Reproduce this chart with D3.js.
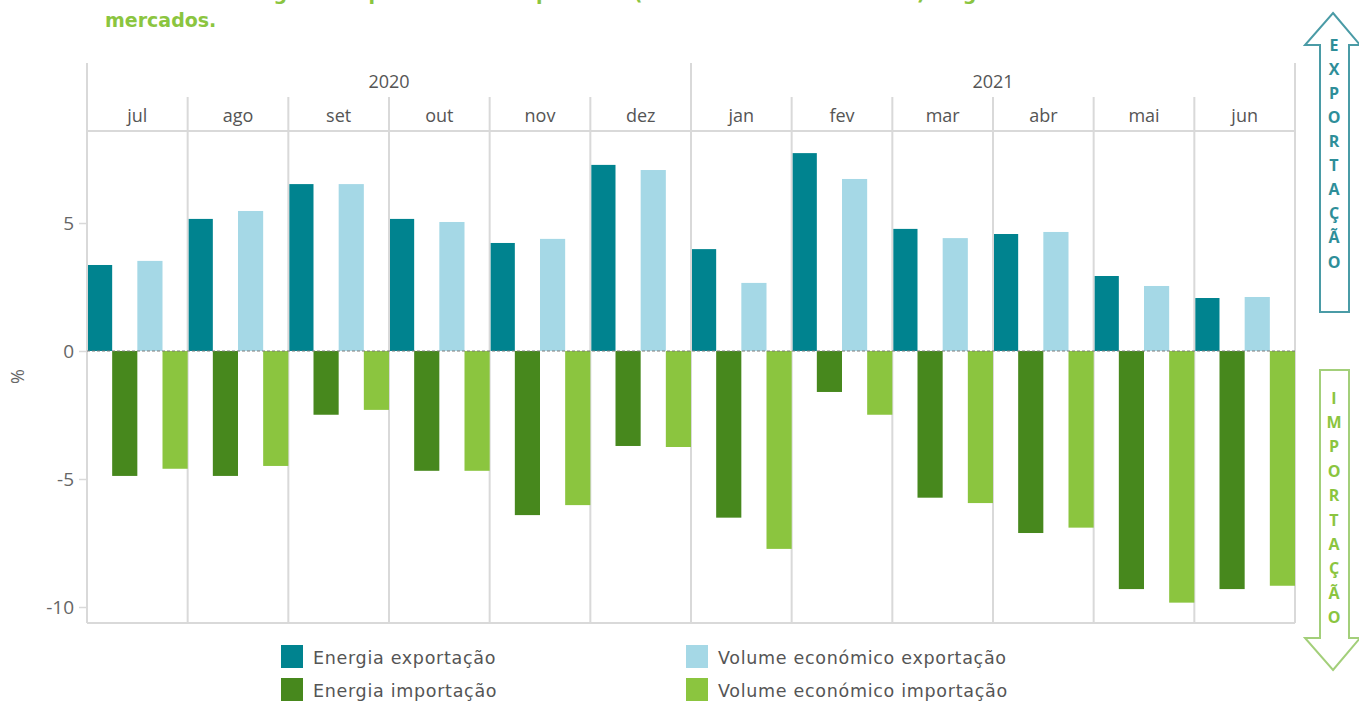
<!DOCTYPE html>
<html lang="pt">
<head>
<meta charset="utf-8">
<script src="https://cdn.jsdelivr.net/npm/d3@7/dist/d3.min.js"></script>
<style>
  html, body { margin: 0; padding: 0; background: #fff; }
  svg { display: block; }
  text { font-family: "Open Sans", "Noto Sans", sans-serif; }
  text.title { font-family: "DejaVu Sans", sans-serif; }
  text.legend { font-family: "DejaVu Sans", sans-serif; letter-spacing: 0.7px; }
</style>
</head>
<body>
<svg id="chart" width="1359" height="702"></svg>
<script>
// Monthly variation (%) of energy and economic volume, exports vs imports
const months = ["jul", "ago", "set", "out", "nov", "dez", "jan", "fev", "mar", "abr", "mai", "jun"];
const years = [
  { label: "2020", from: "jul", to: "dez" },
  { label: "2021", from: "jan", to: "jun" }
];
const seriesNames = ["Energia exportação", "Energia importação", "Volume económico exportação", "Volume económico importação"];
const energiaExportacao = [3.36, 5.16, 6.52, 5.16, 4.22, 7.27, 3.98, 7.73, 4.77, 4.57, 2.93, 2.07];
const energiaImportacao = [-4.88, -4.88, -2.49, -4.68, -6.41, -3.71, -6.51, -1.60, -5.73, -7.11, -9.30, -9.30];
const volumeExportacao = [3.52, 5.47, 6.52, 5.04, 4.38, 7.07, 2.66, 6.72, 4.41, 4.65, 2.54, 2.11];
const volumeImportacao = [-4.60, -4.49, -2.30, -4.68, -6.02, -3.75, -7.73, -2.49, -5.94, -6.90, -9.83, -9.17];
const yTicks = [-10, -5, 0, 5];
const colors = ["#00838F", "#47881D", "#A5D8E6", "#8BC53F"];

const seriesValues = [energiaExportacao, energiaImportacao, volumeExportacao, volumeImportacao];

const svg = d3.select("#chart");
const left = 87, right = 1295, plotTop = 131, plotBottom = 623;
const yearTop = 63, monthTop = 97;
const grid = "#d9d9d9";

const x = d3.scaleBand().domain(months).range([left, right]).padding(0);
const xInner = d3.scaleBand().domain(seriesNames).range([0, x.bandwidth()]).padding(0);
const y = d3.scaleLinear().domain([-10.625, 8.594]).range([plotBottom, plotTop]);

// Title (wrapped, first line runs off the top edge)
const title = svg.append("g").attr("fill", "#8BC53F").attr("font-weight", 700).attr("font-size", 19);
title.append("text").attr("class", "title").attr("x", 105).attr("y", 0)
  .attr("textLength", 1110).attr("lengthAdjust", "spacing")
  .text("nos mercados geridos pelo OMIE e a procura (ou o volume económico) negociada nos referidos");
title.append("text").attr("class", "title").attr("x", 105).attr("y", 27).text("mercados.");

// Frame and grid
const g = svg.append("g");
g.append("line").attr("x1", left).attr("x2", left).attr("y1", yearTop).attr("y2", plotBottom)
  .attr("stroke", grid).attr("stroke-width", 2);
g.append("line").attr("x1", right).attr("x2", right).attr("y1", yearTop).attr("y2", plotBottom)
  .attr("stroke", grid).attr("stroke-width", 2);
g.append("line").attr("x1", left).attr("x2", right).attr("y1", plotTop).attr("y2", plotTop)
  .attr("stroke", grid).attr("stroke-width", 2);
g.append("line").attr("x1", left).attr("x2", right).attr("y1", plotBottom).attr("y2", plotBottom)
  .attr("stroke", grid).attr("stroke-width", 2);

// Month separators
g.selectAll("line.msep").data(months.slice(1)).join("line")
  .attr("class", "msep")
  .attr("x1", d => x(d)).attr("x2", d => x(d))
  .attr("y1", d => years.some(yr => yr.from === d) ? yearTop : monthTop)
  .attr("y2", plotBottom)
  .attr("stroke", grid).attr("stroke-width", 2);

// Year header
g.selectAll("text.year").data(years).join("text")
  .attr("class", "year")
  .attr("x", d => (x(d.from) + x(d.to) + x.bandwidth()) / 2)
  .attr("y", 88)
  .attr("text-anchor", "middle").attr("font-size", 18).attr("fill", "#555")
  .text(d => d.label);

// Month header
g.selectAll("text.month").data(months).join("text")
  .attr("class", "month")
  .attr("x", d => x(d) + x.bandwidth() / 2)
  .attr("y", 122)
  .attr("text-anchor", "middle").attr("font-size", 18).attr("fill", "#555")
  .text(d => d);

// Bars
const rows = months.map((m, i) => ({ month: m, values: seriesNames.map((s, k) => ({ key: s, k, v: seriesValues[k][i] })) }));
const groups = svg.append("g").selectAll("g").data(rows).join("g")
  .attr("transform", d => `translate(${x(d.month)},0)`);
groups.selectAll("rect").data(d => d.values).join("rect")
  .attr("x", d => xInner(d.key) + (d.k === 0 ? 1 : 0))
  .attr("width", d => xInner.bandwidth() - (d.k === 0 ? 1 : 0))
  .attr("y", d => y(Math.max(0, d.v)))
  .attr("height", d => Math.abs(y(d.v) - y(0)))
  .attr("fill", d => colors[d.k]);

// Zero reference line
svg.append("line").attr("x1", left).attr("x2", right).attr("y1", y(0)).attr("y2", y(0))
  .attr("stroke", "#7a7a7a").attr("stroke-width", 1).attr("stroke-dasharray", "3,2");

// Y axis
const yAxis = svg.append("g").attr("transform", `translate(${left - 1},0)`)
  .call(d3.axisLeft(y).tickValues(yTicks).tickSize(7).tickPadding(5).tickFormat(d => String(d)));
yAxis.select(".domain").remove();
yAxis.selectAll(".tick line").attr("stroke", grid).attr("stroke-width", 1.5);
yAxis.selectAll(".tick text").attr("font-size", 19).attr("fill", "#666")
  .attr("font-family", "'Open Sans', 'Noto Sans', sans-serif");

svg.append("text").attr("transform", `translate(24,${y(-1)}) rotate(-90)`)
  .attr("text-anchor", "middle").attr("font-size", 18).attr("fill", "#666").text("%");

// Legend
const legendItems = [
  { name: seriesNames[0], c: colors[0], x: 281, y: 645 },
  { name: seriesNames[2], c: colors[2], x: 686, y: 645 },
  { name: seriesNames[1], c: colors[1], x: 281, y: 678 },
  { name: seriesNames[3], c: colors[3], x: 686, y: 678 }
];
const lg = svg.append("g").selectAll("g").data(legendItems).join("g")
  .attr("transform", d => `translate(${d.x},${d.y})`);
lg.append("rect").attr("width", 22).attr("height", 23).attr("fill", d => d.c);
lg.append("text").attr("class", "legend").attr("x", 32).attr("y", 13).attr("dy", "0.35em")
  .attr("font-size", 17.5).attr("fill", "#555")
  .text(d => d.name);

// Direction arrows on the right
function arrowPath(up, top, bottom) {
  const sl = 1320, sr = 1349, hl = 1305, hr = 1360, cx = 1333, head = 32;
  if (up) {
    return `M${cx},${top} L${hr},${top + head} L${sr},${top + head} L${sr},${bottom} L${sl},${bottom} L${sl},${top + head} L${hl},${top + head} Z`;
  }
  return `M${cx},${bottom} L${hr},${bottom - head} L${sr},${bottom - head} L${sr},${top} L${sl},${top} L${sl},${bottom - head} L${hl},${bottom - head} Z`;
}
svg.append("path").attr("d", arrowPath(true, 13, 312))
  .attr("fill", "none").attr("stroke", "#4A9BA6").attr("stroke-width", 2);
svg.append("path").attr("d", arrowPath(false, 370, 670))
  .attr("fill", "none").attr("stroke", "#A3CF7A").attr("stroke-width", 2);

const expLetters = "EXPORTAÇÃO".split("");
const impLetters = "IMPORTAÇÃO".split("");
svg.append("g").selectAll("text").data(expLetters).join("text")
  .attr("x", 1334).attr("y", (d, i) => 45 + i * 24.1).attr("dy", "0.35em")
  .attr("text-anchor", "middle").attr("font-size", 16).attr("font-weight", 700)
  .attr("fill", "#2E8E99").text(d => d);
svg.append("g").selectAll("text").data(impLetters).join("text")
  .attr("x", 1334).attr("y", (d, i) => 398 + i * 24.4).attr("dy", "0.35em")
  .attr("text-anchor", "middle").attr("font-size", 16).attr("font-weight", 700)
  .attr("fill", "#8BC53F").text(d => d);
</script>
</body>
</html>
